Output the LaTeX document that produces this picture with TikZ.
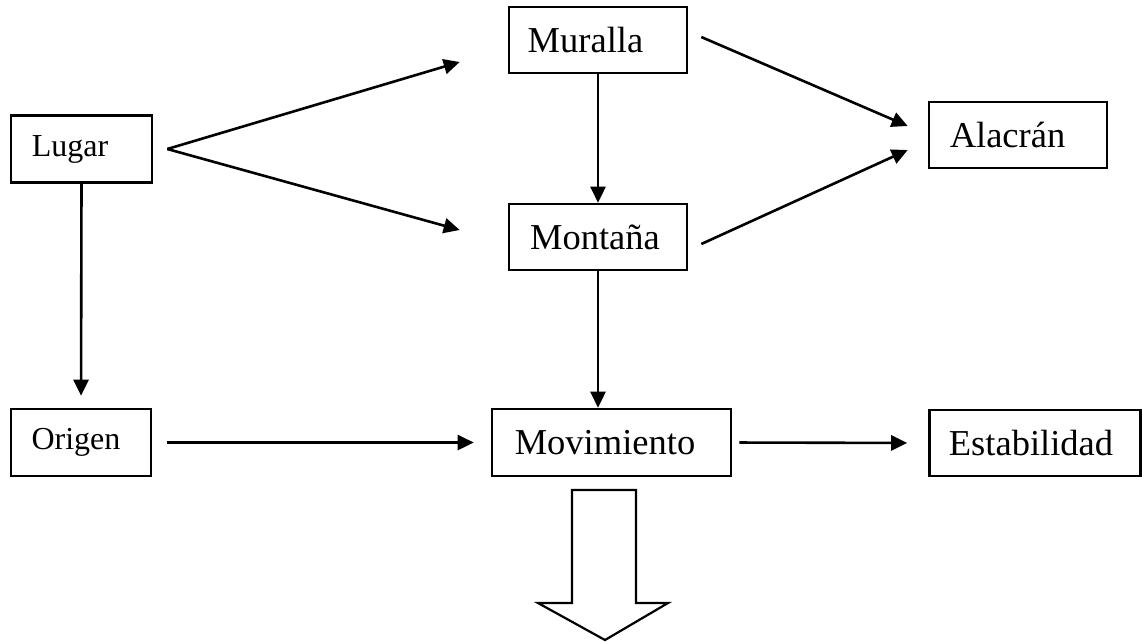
\documentclass[tikz,border=0pt]{standalone}
\usepackage{fontspec}
\setmainfont{Liberation Serif}
\usetikzlibrary{arrows.meta,calc}
\newcommand{\gapr}[1]{\rule{#1}{0pt}}
\begin{document}
\begin{tikzpicture}[x=1pt,y=-1pt,
  box/.style={draw,line width=2.6pt,inner sep=0pt,font=\fontsize{36.5}{40}\selectfont},
  smallbox/.style={box,font=\fontsize{32}{36}\selectfont},
  link/.style={line width=2.6pt,-{Triangle[length=16pt,width=15pt]}},
  blockarrow/.style={draw,line width=2.2pt,line join=miter}]
\useasboundingbox (0,0) rectangle (1142,641);
\node[smallbox,minimum width=141pt,minimum height=67pt] (lugar) at (81.5,149) {Lugar\gapr{23pt}};
\node[smallbox,minimum width=140pt,minimum height=67pt] (origen) at (81,442.5) {Origen\gapr{10pt}};
\node[box,minimum width=178pt,minimum height=66pt] (muralla) at (598,40) {Muralla\gapr{25pt}};
\node[box,minimum width=178pt,minimum height=66pt] (montana) at (598,237) {Montaña\gapr{6pt}};
\node[box,minimum width=178pt,minimum height=66pt] (alacran) at (1018,135) {Alacrán\gapr{21pt}};
\node[box,minimum width=239pt,minimum height=67pt] (movimiento) at (611.5,442.5) {Movimiento\gapr{13pt}};
\node[box,minimum width=211pt,minimum height=66pt] (estabilidad) at (1035,443) {Estabilidad\gapr{8pt}};
\coordinate (lv) at ($(lugar.east)+(14,0)$);
\coordinate (tm1) at ($(muralla.west)+(-48,22)$);
\coordinate (tm2) at ($(montana.west)+(-48,-7)$);
\coordinate (ma) at ($(muralla.east)+(13,-3)$);
\coordinate (mo) at ($(montana.east)+(13,7)$);
\coordinate (ta1) at ($(alacran.west)+(-20,-9)$);
\coordinate (ta2) at ($(alacran.west)+(-20,15)$);
\draw[link] (lv) -- (tm1);
\draw[link] (lv) -- (tm2);
\draw[link,shorten >=12pt] (lugar.south) -- (origen.north);
\draw[link] (muralla.south) -- (montana.north);
\draw[link] (ma) -- (ta1);
\draw[link] (mo) -- (ta2);
\draw[link] (montana.south) -- (montana.south |- movimiento.north);
\draw[link,shorten <=15pt,shorten >=17pt] (origen.east) -- (movimiento.west);
\draw[link,shorten <=7pt,shorten >=21pt] (movimiento.east) -- (estabilidad.west);
\draw[blockarrow] (572,490) -- (636,490) -- (636,603) -- (668,603) -- (605,640) -- (538,603) -- (572,603) -- cycle;
\end{tikzpicture}
\end{document}
